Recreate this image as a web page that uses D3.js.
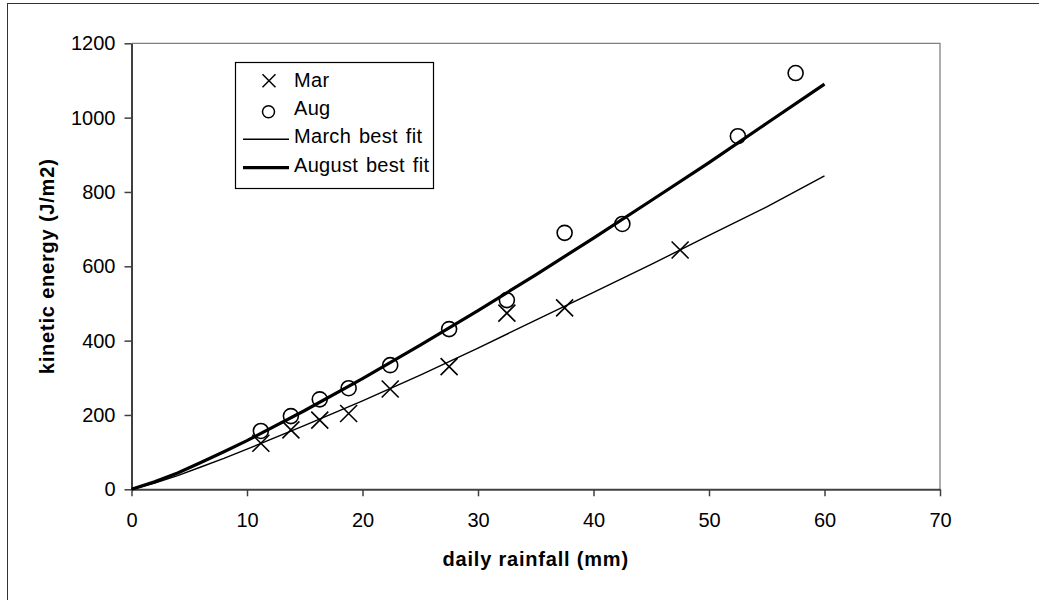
<!DOCTYPE html>
<html>
<head>
<meta charset="utf-8">
<script src="https://d3js.org/d3.v7.min.js"></script>
<style>
    body { margin: 0; background: #fff; }
    text { font-family: "Liberation Sans", Arial, sans-serif; fill: #000; }
</style>
</head>
<body>
<svg id="chart" width="1039" height="600"></svg>
<script>
    // measured points
    var marX = [11.2, 13.8, 16.3, 18.8, 22.4, 27.5, 32.5, 37.5, 47.5];
    var marY = [124, 160, 186, 204, 270, 330, 474, 488, 644];
    var augX = [11.2, 13.8, 16.3, 18.8, 22.4, 27.5, 32.5, 37.5, 42.5, 52.5, 57.5];
    var augY = [157, 197, 242, 272, 334, 431, 509, 690, 714, 950, 1120];

    // best fit curves
    var fitX = [0, 2, 4, 6, 8, 10, 15, 20, 25, 30, 35, 40, 45, 50, 55, 60];
    var marFit = [0, 17, 37, 60, 83, 108, 172, 238, 307, 380, 455, 530, 605, 683, 760, 843];
    var augFit = [0, 20, 44, 72, 101, 131, 212, 298, 388, 481, 577, 676, 777, 879, 985, 1090];

    var xTicks = [0, 10, 20, 30, 40, 50, 60, 70];
    var yTicks = [0, 200, 400, 600, 800, 1000, 1200];

    var legendItems = [
        {label: "Mar", type: "cross"},
        {label: "Aug", type: "circle"},
        {label: "March best fit", type: "thin"},
        {label: "August best fit", type: "thick"}
    ];

    var svg = d3.select("#chart");

    // chart border
    svg.append("rect")
        .attr("x", 7.5).attr("y", 3.5)
        .attr("width", 1040).attr("height", 605)
        .attr("fill", "none")
        .attr("stroke", "#333")
        .attr("stroke-width", 1);

    var pLeft = 131.5, pRight = 940, pTop = 43.3, pBottom = 489.3;

    var x = d3.scaleLinear().domain([0, 70]).range([pLeft, pRight]);
    var y = d3.scaleLinear().domain([0, 1200]).range([pBottom, pTop]);

    // plot area border (top + right in gray)
    svg.append("path")
        .attr("d", "M" + pLeft + "," + pTop + "H" + pRight + "V" + pBottom)
        .attr("fill", "none")
        .attr("stroke", "#808080")
        .attr("stroke-width", 1.3);

    var xAxis = svg.append("g")
        .attr("transform", "translate(0," + pBottom + ")")
        .call(d3.axisBottom(x).tickValues(xTicks).tickSize(7).tickPadding(17).tickSizeOuter(0));
    var yAxis = svg.append("g")
        .attr("transform", "translate(" + pLeft + ",0)")
        .call(d3.axisLeft(y).tickValues(yTicks).tickFormat(d3.format("d"))
            .tickSize(7).tickPadding(9).tickSizeOuter(0));

    [xAxis, yAxis].forEach(function(a) {
        a.select(".domain").attr("stroke", "#404040").attr("stroke-width", 2);
        a.selectAll(".tick line").attr("stroke", "#404040").attr("stroke-width", 1.5);
        a.selectAll(".tick text")
            .style("font-family", "Liberation Sans, Arial, sans-serif")
            .style("font-size", "20px")
            .attr("fill", "#000");
    });

    // axis titles
    svg.append("text")
        .attr("x", (pLeft + pRight) / 2)
        .attr("y", 566)
        .attr("text-anchor", "middle")
        .style("font-size", "20px")
        .style("font-weight", "bold")
        .style("letter-spacing", "0.8px")
        .text("daily rainfall (mm)");

    svg.append("text")
        .attr("transform", "translate(54," + ((pTop + pBottom) / 2) + ") rotate(-90)")
        .attr("text-anchor", "middle")
        .style("font-size", "20px")
        .style("font-weight", "bold")
        .style("letter-spacing", "0.8px")
        .text("kinetic energy (J/m2)");

    // best fit lines
    var line = d3.line()
        .x(function(d) { return x(d[0]); })
        .y(function(d) { return y(d[1]); });

    svg.append("path")
        .datum(fitX.map(function(v, i) { return [v, marFit[i]]; }))
        .attr("d", line)
        .attr("fill", "none")
        .attr("stroke", "#000")
        .attr("stroke-width", 1.4);

    svg.append("path")
        .datum(fitX.map(function(v, i) { return [v, augFit[i]]; }))
        .attr("d", line)
        .attr("fill", "none")
        .attr("stroke", "#000")
        .attr("stroke-width", 3.2);

    function crossPath(cx, cy, s) {
        return "M" + (cx - s) + "," + (cy - s) + "L" + (cx + s) + "," + (cy + s) +
               "M" + (cx - s) + "," + (cy + s) + "L" + (cx + s) + "," + (cy - s);
    }

    // March crosses
    svg.append("g").selectAll("path")
        .data(marX.map(function(v, i) { return [v, marY[i]]; }))
        .enter().append("path")
        .attr("d", function(d) { return crossPath(x(d[0]), y(d[1]), 8.5); })
        .attr("stroke", "#000")
        .attr("stroke-width", 1.6)
        .attr("fill", "none");

    // August circles
    svg.append("g").selectAll("circle")
        .data(augX.map(function(v, i) { return [v, augY[i]]; }))
        .enter().append("circle")
        .attr("cx", function(d) { return x(d[0]); })
        .attr("cy", function(d) { return y(d[1]); })
        .attr("r", 7.5)
        .attr("fill", "none")
        .attr("stroke", "#000")
        .attr("stroke-width", 1.6);

    // legend
    var lg = svg.append("g");
    lg.append("rect")
        .attr("x", 235.5).attr("y", 62.5)
        .attr("width", 198).attr("height", 126)
        .attr("fill", "#fff")
        .attr("stroke", "#000")
        .attr("stroke-width", 1.2);

    var rows = lg.selectAll("g.item")
        .data(legendItems)
        .enter().append("g")
        .attr("class", "item")
        .attr("transform", function(d, i) { return "translate(0," + (80 + i * 28.4) + ")"; });

    rows.each(function(d) {
        var r = d3.select(this);
        if (d.type == "cross") {
            r.append("path").attr("d", crossPath(269, 0.7, 6.5))
                .attr("stroke", "#000").attr("stroke-width", 1.5);
        } else if (d.type == "circle") {
            r.append("circle").attr("cx", 268.5).attr("cy", 3.3).attr("r", 6)
                .attr("fill", "none").attr("stroke", "#000").attr("stroke-width", 1.5);
        } else {
            r.append("line").attr("x1", 243).attr("x2", 289).attr("y1", 2.4).attr("y2", 2.4)
                .attr("stroke", "#000").attr("stroke-width", d.type == "thin" ? 1.4 : 3.2);
        }
        r.append("text")
            .attr("x", 294)
            .attr("y", 6.6)
            .style("font-size", "20px")
            .style("letter-spacing", "0.3px")
            .style("word-spacing", "2px")
            .text(d.label);
    });
</script>
</body>
</html>
